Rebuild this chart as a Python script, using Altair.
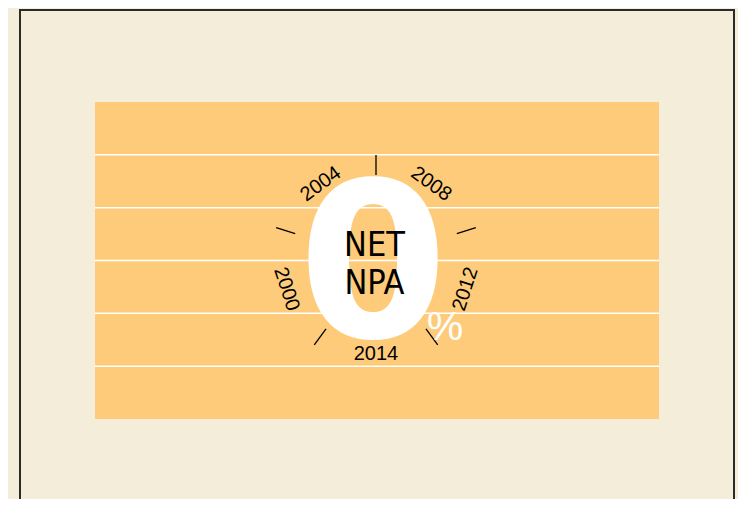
import altair as alt
import pandas as pd
import numpy as np

# ---- data ----
years = ["2000", "2004", "2008", "2012", "2014"]
label_angles = [252, 324, 36, 108, 180]      # degrees, clockwise from top
tick_angles = [0, 72, 144, 216, 288]
bands = [1, 2, 3, 4, 5]
center_lines = ["NET", "NPA"]
big_value = "0"
unit = "%"

BG = "#F4EDD9"
ORANGE = "#FECB7B"

R_LABEL = 94
R_IN, R_OUT = 85, 105


def flip(a):
    return (a - 180) % 360 if 90 < a < 270 else a % 360


lab = pd.DataFrame({"year": years, "a": label_angles})
lab["x"] = R_LABEL * np.sin(np.radians(lab["a"]))
lab["y"] = R_LABEL * np.cos(np.radians(lab["a"]))
lab["rot"] = [flip(a) for a in label_angles]

tk = pd.DataFrame({"a": tick_angles})
tk["x"] = R_IN * np.sin(np.radians(tk["a"]))
tk["y"] = R_IN * np.cos(np.radians(tk["a"]))
tk["x2"] = R_OUT * np.sin(np.radians(tk["a"]))
tk["y2"] = R_OUT * np.cos(np.radians(tk["a"]))

xs = alt.Scale(domain=[-281, 283], nice=False, zero=False)
ys = alt.Scale(domain=[-159, 158], nice=False, zero=False)

one = pd.DataFrame({"d": [0]})

grid = alt.Chart(pd.DataFrame({"b": bands})).mark_rule(
    color="white", strokeWidth=1.5
).encode(y=alt.Y("b:Q", scale=alt.Scale(domain=[0, 6], nice=False), axis=None))

frame = alt.Chart(one).mark_rect(
    fill="transparent", stroke="#2b2b2b", strokeWidth=2
).encode(
    x=alt.value(-75), x2=alt.value(639), y=alt.value(-92), y2=alt.value(700)
)

ticks = alt.Chart(tk).mark_rule(color="black", strokeWidth=1.3).encode(
    x=alt.X("x:Q", scale=xs, axis=None),
    y=alt.Y("y:Q", scale=ys, axis=None),
    x2="x2:Q",
    y2="y2:Q",
)

labels = alt.Chart(lab).mark_text(
    font="Liberation Sans", fontSize=20, color="black", align="center", baseline="middle"
).encode(
    x=alt.X("x:Q", scale=xs, axis=None),
    y=alt.Y("y:Q", scale=ys, axis=None),
    angle=alt.Angle("rot:Q", scale=None),
    text="year:N",
)

zero = alt.Chart(one).mark_text(
    text=big_value, font="DejaVu Sans", fontWeight="bold", fontSize=215,
    color="white", align="center", baseline="alphabetic"
).encode(
    x=alt.X(datum=-3, scale=xs, axis=None),
    y=alt.Y(datum=-77, scale=ys, axis=None),
)

center_layers = []
for i, t in enumerate(center_lines):
    center_layers.append(
        alt.Chart(one).mark_text(
            text=t, font="Liberation Sans Narrow, Arial Narrow, DejaVu Sans Condensed, sans-serif",
            fontSize=34, color="black", align="center", baseline="alphabetic"
        ).encode(
            x=alt.X(datum=-1.5, scale=xs, axis=None),
            y=alt.Y(datum=4.3 - 38.3 * i, scale=ys, axis=None),
        )
    )

pct = alt.Chart(one).mark_text(
    text=unit, font="Liberation Sans", fontSize=41, color="white",
    align="center", baseline="alphabetic"
).encode(
    x=alt.X(datum=69, scale=xs, axis=None),
    y=alt.Y(datum=-79.5, scale=ys, axis=None),
)

chart = alt.layer(
    grid, frame, ticks, labels, zero, *center_layers, pct
).resolve_scale(y="independent").properties(
    width=564,
    height=317,
    background=BG,
    padding={"left": 87, "top": 94, "right": 79, "bottom": 80},
    autosize=alt.AutoSizeParams(type="none"),
).configure_view(fill=ORANGE, strokeWidth=0)

chart.save("out.html", embed_options={"renderer": "svg", "actions": False})
